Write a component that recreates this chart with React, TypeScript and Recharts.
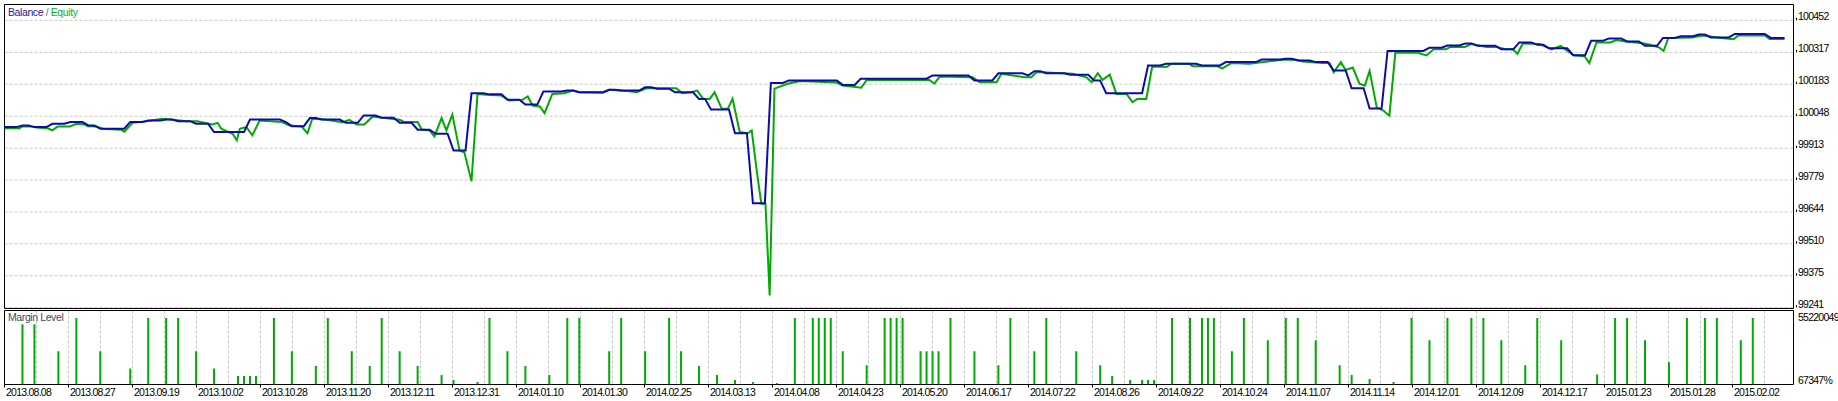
import { Bar, BarChart, CartesianGrid, Line, LineChart, ReferenceArea, XAxis, YAxis } from 'recharts';

// tester report: x axis is the trade number, dates are only printed under the grid
const dateLabels = [
  '2013.08.08', '2013.08.27', '2013.09.19', '2013.10.02', '2013.10.28', '2013.11.20', '2013.12.11',
  '2013.12.31', '2014.01.10', '2014.01.30', '2014.02.25', '2014.03.13', '2014.04.08', '2014.04.23',
  '2014.05.20', '2014.06.17', '2014.07.22', '2014.08.26', '2014.09.22', '2014.10.24', '2014.11.07',
  '2014.11.14', '2014.12.01', '2014.12.09', '2014.12.17', '2015.01.23', '2015.01.28', '2015.02.02',
];

const priceTicks = [99241, 99375, 99510, 99644, 99779, 99913, 100048, 100183, 100317, 100452];
const marginTicks = [67347, 55220049];

// balance changes: trade at which the new level is reached, and the level
const balanceTrades = [
  0, 3, 5, 8, 11, 14, 16, 21, 24, 27, 29, 32, 35, 41, 47, 48, 51, 53, 57, 60,
  63, 66, 69, 72, 75, 78, 81, 84, 87, 90, 94, 96, 101, 103, 107, 109, 112, 116, 118, 122,
  125, 128, 131, 140, 143, 155, 162, 166, 171, 172, 174, 178, 182, 184, 191, 194, 200, 204, 210, 214,
  216, 219, 222, 225, 228, 231, 238, 241, 244, 246, 250, 253, 256, 258, 262, 265, 268, 271, 274, 277,
  280, 283, 285, 289, 295,
];
const balanceLevels = [
  100002, 100009, 100002, 100016, 100023, 100009, 99995, 100023, 100030, 100034,
  100027, 100016, 99981, 100034, 100023, 100006, 100040, 100034, 100020, 100051,
  100041, 100020, 99991, 99974, 99903, 100145, 100140, 100117, 100097, 100152,
  100156, 100149, 100159, 100156, 100170, 100164, 100149, 100121, 100076, 99976,
  99681, 100188, 100199, 100180, 100206, 100220, 100199, 100229, 100220, 100238,
  100229, 100223, 100199, 100145, 100262, 100269, 100262, 100276, 100287, 100290,
  100283, 100276, 100241, 100166, 100080, 100323, 100337, 100346, 100355, 100345,
  100330, 100359, 100349, 100334, 100305, 100366, 100376, 100363, 100345, 100378,
  100385, 100392, 100380, 100395, 100378,
];
const LAST_TRADE = 297.3;

// equity: [trade, value]
const equityCurve: [number, number][] = [
  [0, 99997], [2.5, 99997], [3, 100005], [4.5, 100005], [5.3, 100000], [7.2, 99997], [8, 99988],
  [8.9, 100005], [10.9, 100005], [12, 100016], [13.4, 100013], [13.9, 100006], [15.4, 100005],
  [16.4, 99995], [19.5, 99991], [20, 99983], [21.4, 100020], [23.7, 100027], [26.4, 100037],
  [28.1, 100033], [30.4, 100027], [32.2, 100027], [34.7, 100013], [35.6, 100020], [36.2, 99995],
  [38.1, 99974], [38.8, 99946], [39.3, 99995], [40.4, 100002], [41.4, 99967], [42.6, 100030],
  [46.4, 100023], [47.6, 100009], [49.6, 100005], [50.6, 99976], [51.4, 100037], [53.4, 100034],
  [56.5, 100023], [57.6, 100033], [58.8, 100013], [60.1, 100013], [61.5, 100047], [63.1, 100041],
  [66, 100033], [66.8, 100023], [69, 100023], [69.7, 99992], [71, 99988], [71.8, 99962],
  [73, 100040], [73.8, 99988], [74.8, 100055], [76, 99903], [76.8, 99896], [78, 99774],
  [79, 100142], [80.5, 100138], [83, 100135], [84.3, 100114], [86.5, 100117], [87.4, 100131],
  [88.2, 100093], [89.4, 100089], [90.2, 100061], [91.5, 100142], [93.5, 100145], [94.9, 100156],
  [96, 100149], [99.9, 100147], [101, 100159], [104.4, 100153], [105.6, 100149], [107.2, 100166],
  [112.2, 100166], [113.2, 100145], [114.7, 100149], [115.7, 100156], [116.7, 100121],
  [117.8, 100121], [118.6, 100149], [119.8, 100079], [120.8, 100079], [121.6, 100121],
  [122.8, 99981], [124.1, 99976], [124.8, 99988], [125.6, 99826], [126.4, 99679], [127.1, 99679],
  [127.8, 99292], [128.6, 100164], [130.8, 100185], [132.9, 100196], [139, 100190], [140, 100177],
  [143.1, 100168], [144, 100201], [154.5, 100201], [155.3, 100185], [156.2, 100215],
  [161.7, 100212], [162.9, 100191], [165.7, 100191], [166.5, 100227], [170.4, 100212],
  [171.5, 100212], [172.4, 100234], [178.4, 100227], [180.7, 100212], [181.6, 100191],
  [182.6, 100229], [183.4, 100201], [184.6, 100223], [185.7, 100142], [187.4, 100142],
  [188.4, 100107], [189.2, 100121], [190.7, 100121], [191.7, 100258], [194.1, 100255],
  [194.9, 100269], [197.9, 100269], [198.4, 100259], [202.4, 100259], [203.4, 100250],
  [204.9, 100272], [207.9, 100269], [211.3, 100280], [213.5, 100286], [215.8, 100286],
  [216.8, 100279], [220.1, 100272], [221.3, 100272], [222, 100233], [223.2, 100276], [224, 100243],
  [225.2, 100253], [226.3, 100185], [227.2, 100177], [228, 100239], [229.2, 100084],
  [230.3, 100072], [231.3, 100050], [232.3, 100315], [236, 100315], [237.5, 100304],
  [238.7, 100330], [240.7, 100330], [241.5, 100340], [243.9, 100340], [245, 100352],
  [247.5, 100340], [249.2, 100340], [250.7, 100330], [251.9, 100330], [252.7, 100311],
  [253.6, 100355], [256.4, 100352], [258.4, 100330], [259.9, 100345], [260.7, 100330],
  [262.1, 100305], [263.9, 100301], [264.7, 100272], [265.9, 100359], [268.2, 100359],
  [269.2, 100369], [270.8, 100363], [273.6, 100356], [274.8, 100349], [276.4, 100337],
  [277.1, 100323], [277.9, 100378], [281.9, 100380], [283.6, 100388], [286.8, 100378],
  [288.8, 100373], [289.6, 100388], [294, 100388], [294.8, 100373], [297.3, 100373],
];

// margin level (%) at trades with open positions: [trade, level]
const marginLevels: [number, number][] = [
  [3, 50134000], [5, 50134000], [9, 27640000], [12, 55220049], [16, 27640000], [21, 13300000],
  [24, 55220049], [27, 55220049], [29, 55220049], [32, 27640000], [35, 13300000], [39, 7100000],
  [40, 7100000], [41, 7100000], [42, 7100000], [45, 55220049], [48, 27640000], [52, 15500000],
  [54, 55220049], [58, 27640000], [61, 15500000], [63, 55220049], [66, 27640000], [69, 15500000],
  [73, 7900000], [75, 3800000], [79, 2100000], [81, 55220049], [84, 27640000], [87, 15500000],
  [91, 7900000], [94, 55220049], [96, 55220049], [101, 27640000], [103, 55220049], [107, 27640000],
  [111, 55220049], [113, 27640000], [116, 15500000], [119, 7900000], [122, 3800000], [125, 2100000],
  [129, 1300000], [132, 55220049], [135, 55220049], [136, 55220049], [137, 55220049],
  [138, 55220049], [140, 27640000], [144, 16000000], [147, 55220049], [148, 55220049],
  [149, 55220049], [150, 55220049], [153, 27640000], [154, 27640000], [155, 27640000],
  [156, 27640000], [158, 55220049], [162, 27640000], [166, 16000000], [168, 55220049],
  [172, 27640000], [174, 55220049], [179, 27640000], [183, 16000000], [185, 7100000],
  [188, 3800000], [190, 3800000], [191, 3800000], [192, 3800000], [195, 55220049], [198, 55220049],
  [200, 55220049], [201, 55220049], [202, 55220049], [205, 27640000], [207, 55220049],
  [211, 36790000], [214, 55220049], [216, 55220049], [219, 36790000], [223, 16000000],
  [225, 7900000], [228, 4600000], [232, 2100000], [235, 55220049], [238, 36790000], [241, 55220049],
  [245, 55220049], [247, 55220049], [250, 36790000], [254, 16000000], [256, 55220049],
  [260, 36790000], [266, 8300000], [269, 55220049], [271, 55220049], [274, 36790000],
  [278, 18450000], [281, 55220049], [284, 55220049], [286, 55220049], [290, 36790000],
  [292, 55220049],
];

const FONT = "'Liberation Sans', Arial, sans-serif";
const BLUE = '#0b0bb0';
const GREEN = '#00aa00';
const GRID = '#c8c8c8';

const PLOT_W = 1789;
const XMAX = 298.8;
const GRID_STEP = (XMAX * 32) / PLOT_W; // grid every 32px like the terminal
const gridTicks = Array.from({ length: Math.floor(XMAX / GRID_STEP) + 1 }, (_, k) => k * GRID_STEP);

const YMIN = 99237;
const YMAX = 100519;
const MARGIN_MAX = 61440000;

const balancePoints = (() => {
  const pts = [{ i: balanceTrades[0], v: balanceLevels[0] }];
  for (let k = 1; k < balanceTrades.length; k++) {
    pts.push({ i: balanceTrades[k] - 1, v: balanceLevels[k - 1] });
    pts.push({ i: balanceTrades[k], v: balanceLevels[k] });
  }
  pts.push({ i: LAST_TRADE, v: balanceLevels[balanceLevels.length - 1] });
  return pts;
})();
const equityPoints = equityCurve.map(([i, v]) => ({ i, v }));
const marginPoints = marginLevels.map(([i, m]) => ({ i, m }));

const tickText = { fontSize: 10.5, letterSpacing: -0.75, fontFamily: FONT, fill: '#000' };

function PriceTick({ x, y, payload }: any) {
  return (
    <g>
      <line x1={x + 3} x2={x + 3} y1={y - 2.5} y2={y} stroke="#000" />
      <text x={x + 4.5} y={y} {...tickText} textAnchor="start">
        {payload.value}
      </text>
    </g>
  );
}

function MarginTick({ x, y, index, payload }: any) {
  return (
    <text x={x + 4.5} y={index === 0 ? y - 1 : y + 3} {...tickText} textAnchor="start">
      {payload.value}%
    </text>
  );
}

function DateTick({ x, y, index }: any) {
  if (index % 2 !== 0) return <g />;
  return (
    <g>
      <line x1={x} x2={x} y1={y} y2={y + 3} stroke="#000" />
      <text x={x + 1.5} y={y + 11.5} {...tickText} textAnchor="start">
        {dateLabels[index / 2]}
      </text>
    </g>
  );
}

export default function App() {
  return (
    <div style={{ position: 'absolute', left: 0, top: 0, width: 1838, height: 401, background: '#fff', overflow: 'hidden' }}>
      <div style={{ position: 'absolute', left: 0, top: 0 }}>
        <LineChart width={1838} height={310} margin={{ top: 4.5, right: 0, bottom: 1.5, left: 4.5 }}>
          <CartesianGrid stroke={GRID} strokeDasharray="3 2" />
          <XAxis
            type="number"
            dataKey="i"
            domain={[0, XMAX]}
            ticks={gridTicks}
            allowDataOverflow
            interval={0}
            tick={false}
            axisLine={false}
            tickLine={false}
            height={0}
          />
          <YAxis
            orientation="right"
            width={44.5}
            domain={[YMIN, YMAX]}
            ticks={priceTicks}
            allowDataOverflow
            interval={0}
            axisLine={false}
            tickLine={false}
            tickSize={0}
            tickMargin={0}
            tick={PriceTick}
          />
          <Line data={equityPoints} dataKey="v" type="linear" stroke={GREEN} strokeWidth={2} dot={false} isAnimationActive={false} />
          <Line data={balancePoints} dataKey="v" type="linear" stroke={BLUE} strokeWidth={2} dot={false} isAnimationActive={false} />
          <ReferenceArea x1={0} x2={XMAX} y1={YMIN} y2={YMAX} fill="none" stroke="#000" strokeWidth={1} />
        </LineChart>
      </div>
      <div style={{ position: 'absolute', left: 0, top: 300 }}>
        <BarChart width={1838} height={101} data={marginPoints} margin={{ top: 10.5, right: 0, bottom: 0, left: 4.5 }}>
          <CartesianGrid stroke={GRID} strokeDasharray="3 2" horizontal={false} />
          <XAxis
            type="number"
            dataKey="i"
            domain={[0, XMAX]}
            ticks={gridTicks}
            allowDataOverflow
            interval={0}
            axisLine={false}
            tickLine={false}
            tickSize={0}
            tickMargin={0}
            height={16.5}
            tick={DateTick}
          />
          <YAxis
            orientation="right"
            width={44.5}
            domain={[marginTicks[0], MARGIN_MAX]}
            ticks={marginTicks}
            allowDataOverflow
            interval={0}
            axisLine={false}
            tickLine={false}
            tickSize={0}
            tickMargin={0}
            tick={MarginTick}
          />
          <Bar dataKey="m" fill={GREEN} barSize={2} isAnimationActive={false} />
          <ReferenceArea x1={0} x2={XMAX} y1={marginTicks[0]} y2={MARGIN_MAX} fill="none" stroke="#000" strokeWidth={1} />
        </BarChart>
      </div>
      <div style={{ position: 'absolute', left: 8, top: 7, fontFamily: FONT, fontSize: 10.5, letterSpacing: -0.4, lineHeight: '11px', whiteSpace: 'nowrap' }}>
        <span style={{ color: '#22229a' }}>Balance</span>
        <span style={{ color: '#707070' }}> / </span>
        <span style={{ color: '#12b012' }}>Equity</span>
      </div>
      <div style={{ position: 'absolute', left: 8, top: 312, fontFamily: FONT, fontSize: 10.5, letterSpacing: -0.4, lineHeight: '11px', color: '#404a64', whiteSpace: 'nowrap' }}>
        Margin Level
      </div>
    </div>
  );
}
